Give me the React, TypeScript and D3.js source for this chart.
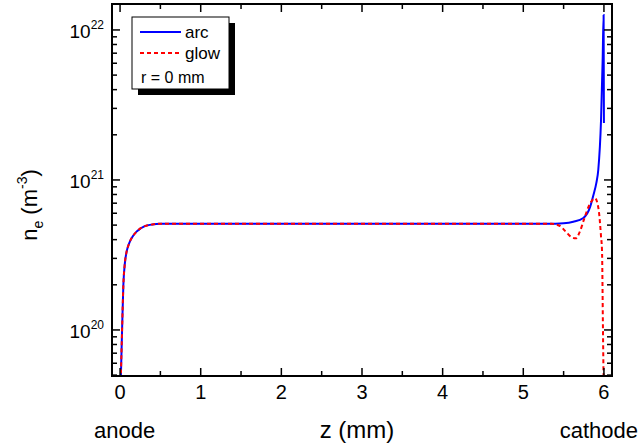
import React from "react";
import * as d3 from "d3";

// arc: z (mm), ne (m^-3)
const arcZ = [0, 0.025, 0.041, 0.06, 0.08, 0.11, 0.15, 0.21, 0.3, 0.4, 0.5, 1, 2, 3, 4, 5, 5.3, 5.5, 5.62, 5.745, 5.83, 5.87, 5.906, 5.93, 5.964, 5.984, 5.996, 6.0];
const arcNe = [3e19, 1.0e20, 2.0e20, 2.8e20, 3.3e20, 3.75e20, 4.15e20, 4.55e20, 4.9e20, 5.05e20, 5.1e20, 5.1e20, 5.1e20, 5.1e20, 5.1e20, 5.1e20, 5.1e20, 5.15e20, 5.27e20, 5.58e20, 6.64e20, 7.94e20, 9.55e20, 1.17e21, 2.51e21, 6.3e21, 1.26e22, 2.4e21];

const glowZ = [0, 0.025, 0.041, 0.06, 0.08, 0.11, 0.15, 0.21, 0.3, 0.4, 0.5, 1, 2, 3, 4, 5, 5.35, 5.45, 5.53, 5.6, 5.65, 5.7, 5.75, 5.83, 5.89, 5.935, 5.964, 5.976, 5.988, 6.0];
const glowNe = [3e19, 1.0e20, 2.0e20, 2.8e20, 3.3e20, 3.75e20, 4.15e20, 4.55e20, 4.9e20, 5.05e20, 5.1e20, 5.1e20, 5.1e20, 5.1e20, 5.1e20, 5.1e20, 5.1e20, 4.95e20, 4.5e20, 4.15e20, 4.08e20, 4.5e20, 5.4e20, 7.0e20, 7.55e20, 6.3e20, 4.2e20, 3.4e20, 1.0e20, 3e19];

const xTicks = [0, 1, 2, 3, 4, 5, 6];
const xMinorTicks = [0.5, 1.5, 2.5, 3.5, 4.5, 5.5];
const yTickExps = [20, 21, 22];

const W = 639, H = 446;
const L = 112, R = 612, T = 4, B = 376;
const FONT = "'Liberation Sans', Arial, sans-serif";

export default function App() {
  const x = d3.scaleLinear().domain([-0.1, 6.1]).range([L, R]);
  const y = d3.scaleLog().domain([Math.pow(10, 19.693), Math.pow(10, 22.173)]).range([B, T]);

  const line = d3.line<[number, number]>()
    .x(d => x(d[0]))
    .y(d => y(d[1]))
    .curve(d3.curveMonotoneX);

  const arcData = arcZ.map((z, i) => [z, arcNe[i]] as [number, number]);
  const glowData = glowZ.map((z, i) => [z, glowNe[i]] as [number, number]);

  const yMinor: number[] = [];
  for (let e = 19; e <= 22; e++) {
    for (let m = 2; m <= 9; m++) {
      const v = m * Math.pow(10, e);
      const [lo, hi] = y.domain();
      if (v > lo && v < hi) yMinor.push(v);
    }
  }

  const major = 8, minor = 5;

  return (
    <svg width={W} height={H} style={{ position: "absolute", left: 0, top: 0 }} fontFamily={FONT}>
      <defs>
        <clipPath id="plotclip">
          <rect x={L} y={T} width={R - L} height={B - T} />
        </clipPath>
      </defs>
      <rect x={0} y={0} width={W} height={H} fill="white" />

      <g clipPath="url(#plotclip)">
        <path d={line(arcData) || ""} fill="none" stroke="#0000ff" strokeWidth={2} />
        <path d={line(glowData) || ""} fill="none" stroke="#ff0000" strokeWidth={2} strokeDasharray="4,3" />
      </g>

      {/* ticks */}
      <g stroke="#000" strokeWidth={1.5}>
        {xTicks.map(t => (
          <g key={"xt" + t}>
            <line x1={x(t)} x2={x(t)} y1={B} y2={B - major} />
            <line x1={x(t)} x2={x(t)} y1={T} y2={T + major} />
          </g>
        ))}
        {xMinorTicks.map(t => (
          <g key={"xm" + t}>
            <line x1={x(t)} x2={x(t)} y1={B} y2={B - minor} />
            <line x1={x(t)} x2={x(t)} y1={T} y2={T + minor} />
          </g>
        ))}
        {yTickExps.map(e => (
          <g key={"yt" + e}>
            <line x1={L} x2={L + major} y1={y(Math.pow(10, e))} y2={y(Math.pow(10, e))} />
            <line x1={R} x2={R - major} y1={y(Math.pow(10, e))} y2={y(Math.pow(10, e))} />
          </g>
        ))}
        {yMinor.map((v, i) => (
          <g key={"ym" + i}>
            <line x1={L} x2={L + minor} y1={y(v)} y2={y(v)} />
            <line x1={R} x2={R - minor} y1={y(v)} y2={y(v)} />
          </g>
        ))}
      </g>

      <rect x={L} y={T} width={R - L} height={B - T} fill="none" stroke="#000" strokeWidth={2} />

      {/* x tick labels */}
      {xTicks.map(t => (
        <text key={"xl" + t} x={x(t)} y={399} fontSize={20} textAnchor="middle" fill="#000">{t}</text>
      ))}
      {/* y tick labels */}
      {yTickExps.map(e => (
        <text key={"yl" + e} x={104} y={y(Math.pow(10, e)) + 8} fontSize={19} textAnchor="end" fill="#000">
          10
          <tspan fontSize={12} dy={-9}>{e}</tspan>
        </text>
      ))}

      {/* axis titles */}
      <text x={357} y={438} fontSize={24} textAnchor="middle" fill="#000">z (mm)</text>
      <text x={94} y={438} fontSize={22} fill="#000">anode</text>
      <text x={638} y={438} fontSize={22} textAnchor="end" fill="#000">cathode</text>
      <text transform="translate(37,205) rotate(-90)" fontSize={22} textAnchor="middle" fill="#000">
        n<tspan fontSize={14} dy={6}>e</tspan><tspan dy={-6}> (m</tspan><tspan fontSize={14} dy={-10}>-3</tspan><tspan dy={10}>)</tspan>
      </text>

      {/* legend */}
      <rect x={138} y={23} width={97} height={72} fill="#000" />
      <rect x={132} y={17} width={97} height={72} fill="#fff" stroke="#000" strokeWidth={1} />
      <line x1={140} x2={181} y1={32} y2={32} stroke="#0000ff" strokeWidth={2} />
      <text x={185} y={38} fontSize={17} fill="#000">arc</text>
      <line x1={140} x2={181} y1={53} y2={53} stroke="#ff0000" strokeWidth={2} strokeDasharray="4,3" />
      <text x={185} y={59} fontSize={17} fill="#000">glow</text>
      <text x={141} y={83} fontSize={16} fill="#000">r = 0 mm</text>
    </svg>
  );
}
